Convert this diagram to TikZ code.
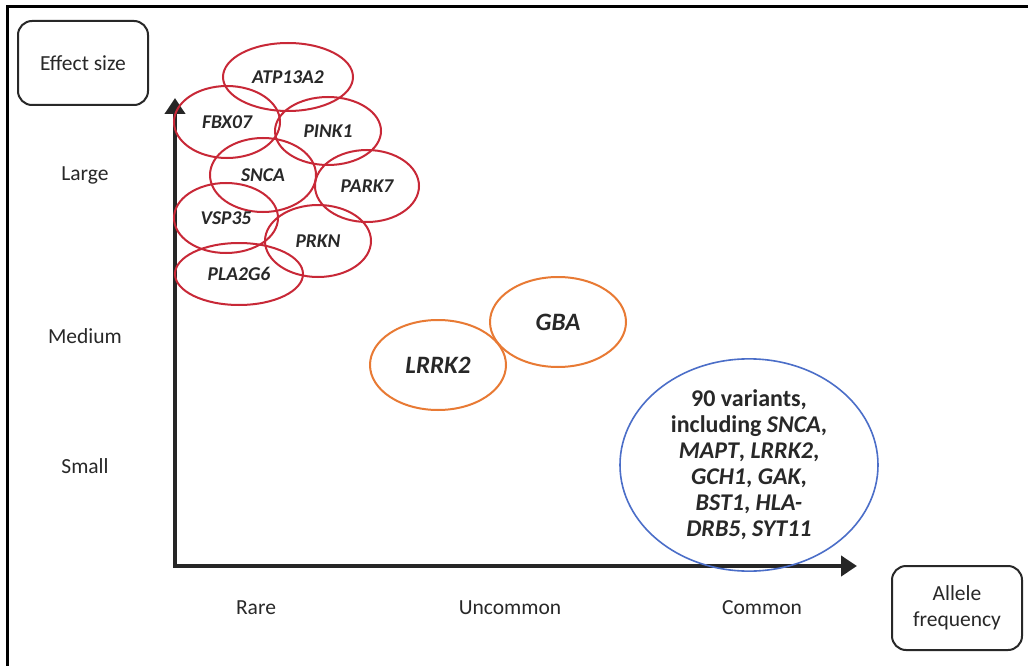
\documentclass[tikz,border=0pt]{standalone}
\usepackage{fontspec}
\setmainfont{Carlito}
\usetikzlibrary{shapes.geometric,arrows.meta}
\definecolor{txt}{RGB}{40,40,40}
\definecolor{gred}{RGB}{200,40,55}
\definecolor{gorange}{RGB}{232,122,52}
\definecolor{gblue}{RGB}{75,110,200}
\tikzset{
  lab/.style={text=txt,font=\fontsize{21.5}{25}\selectfont},
  titlebox/.style={draw=txt,line width=2pt,rounded corners=14pt,minimum width=130pt,minimum height=84pt,align=center,text=txt,font=\fontsize{21.5}{26}\selectfont},
  redgene/.style={ellipse,draw=gred,line width=2pt,inner sep=0pt,text=txt,font=\fontsize{19.5}{22}\selectfont\bfseries\itshape},
  orgene/.style={ellipse,draw=gorange,line width=2pt,inner sep=0pt,text=txt,font=\fontsize{25}{28}\selectfont\bfseries\itshape},
  bluegene/.style={ellipse,draw=gblue,line width=1.6pt,inner sep=0pt,text=txt,align=center,font=\fontsize{24}{26}\selectfont\bfseries},
  axis/.style={line width=4pt,draw=black!85,{Triangle[length=16pt,width=20pt]}-{Triangle[length=16pt,width=20pt]}}
}
\begin{document}
\begin{tikzpicture}[x=1pt,y=-1pt]
\useasboundingbox (0,0) rectangle (1028,666);
\fill[white] (0,0) rectangle (1028,666);
\draw[line width=3pt,black] (7,670) -- (7,7) -- (1032,7);
% axes
\coordinate (ytip) at (175,98);
\coordinate (orig) at (175,566);
\coordinate (xtip) at (857,566);
\draw[axis,line join=miter] (ytip) -- (orig) -- (xtip);
% title boxes
\node[titlebox] (effect) at (83,63) {Effect size};
\node[titlebox] (allele) at (957,608) {Allele\\frequency};
% axis labels
\node[lab] (large) at (85,175) {Large};
\node[lab] (medium) at (85,336) {Medium};
\node[lab] (small) at (85,466) {Small};
\node[lab] (rare) at (256,608) {Rare};
\node[lab] (uncommon) at (510,608) {Uncommon};
\node[lab] (common) at (762,608) {Common};
% red ellipses
\node[redgene,minimum width=130pt,minimum height=68pt] (atp) at (288,77) {ATP13A2};
\node[redgene,minimum width=106pt,minimum height=72pt] (fbx) at (227,122) {FBX07};
\node[redgene,minimum width=106pt,minimum height=68pt] (pink) at (328,131) {PINK1};
\node[redgene,minimum width=106pt,minimum height=74pt] (snca) at (263,175) {SNCA};
\node[redgene,minimum width=104pt,minimum height=72pt] (park) at (367,186) {PARK7};
\node[redgene,minimum width=104pt,minimum height=70pt] (vsp) at (226,218) {VSP35};
\node[redgene,minimum width=106pt,minimum height=72pt] (prkn) at (318,241) {PRKN};
\node[redgene,minimum width=128pt,minimum height=62pt] (pla) at (239,274) {PLA2G6};
% orange ellipses
\node[orgene,minimum width=136pt,minimum height=90pt] (gba) at (558,322) {GBA};
\node[orgene,minimum width=136pt,minimum height=90pt] (lrrk) at (438,365) {LRRK2};
% blue ellipse
\node[bluegene,minimum width=258pt,minimum height=186pt] (many) at (749,465) {90 variants,\\including \textit{SNCA},\\\textit{MAPT}, \textit{LRRK2},\\\textit{GCH1}, \textit{GAK},\\\textit{BST1}, \textit{HLA-}\\\textit{DRB5}, \textit{SYT11}};
\end{tikzpicture}
\end{document}
